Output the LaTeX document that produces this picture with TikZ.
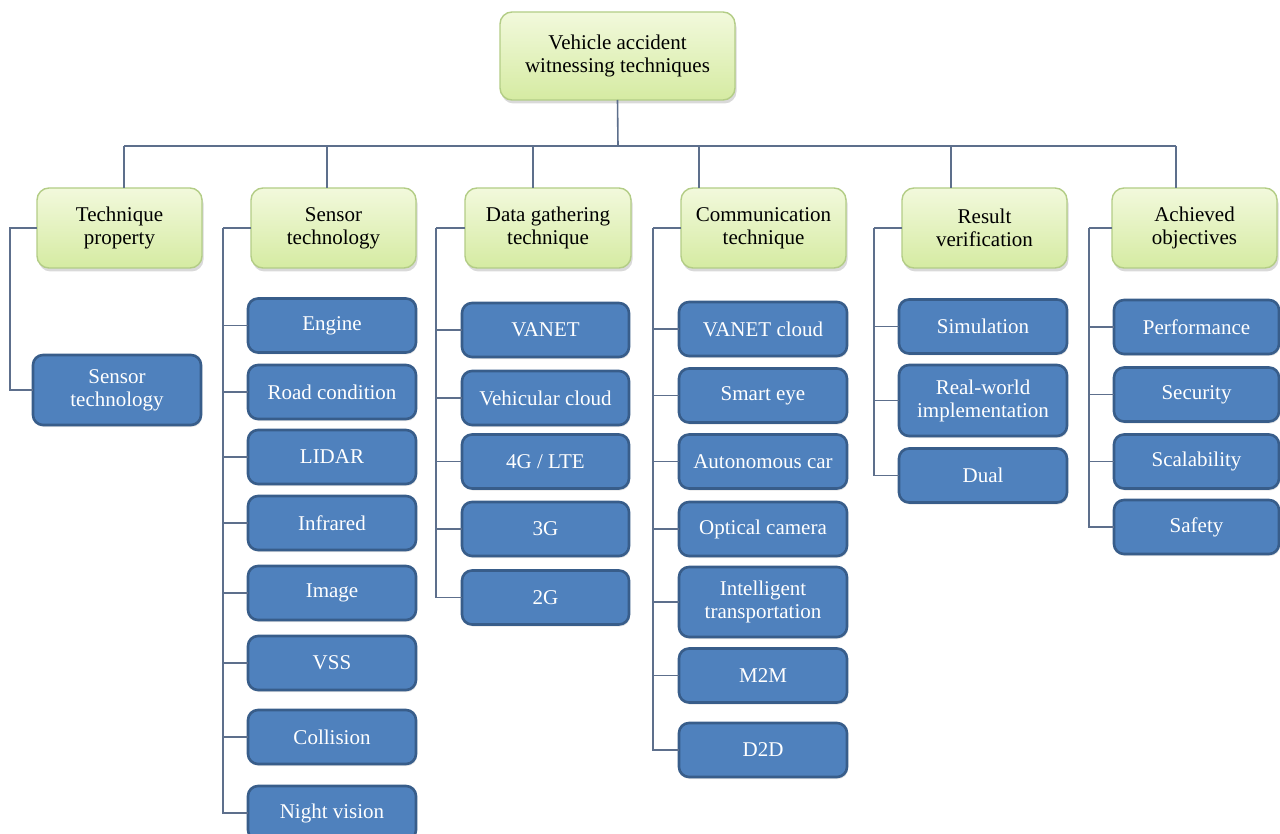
\documentclass[tikz,border=0pt]{standalone}
\usepackage{fontspec}
\setmainfont{Liberation Serif}
\usetikzlibrary{shadows}
\definecolor{bluefill}{HTML}{4F81BD}
\definecolor{blueedge}{HTML}{385D8A}
\definecolor{greentop}{HTML}{F2F9DC}
\definecolor{greenbot}{HTML}{D5EBA2}
\definecolor{greenedge}{HTML}{B3CD86}
\definecolor{linkcol}{HTML}{5D6F8C}
\tikzset{
  greenbox/.style={rectangle, rounded corners=12pt, draw=greenedge, line width=1.4pt,
    top color=greentop, bottom color=greenbot, text=black, align=center,
    inner sep=0pt, outer sep=0pt, font=\fontsize{21}{23}\selectfont,
    drop shadow={shadow xshift=1.5pt, shadow yshift=-3.5pt, opacity=0.3}},
  bluebox/.style={rectangle, rounded corners=10pt, draw=blueedge, line width=2.6pt,
    fill=bluefill, text=white, align=center, minimum width=168pt, minimum height=54pt,
    inner sep=0pt, outer sep=0pt, font=\fontsize{21}{23}\selectfont,
    drop shadow={shadow xshift=1pt, shadow yshift=-2pt, opacity=0.2}},
  link/.style={draw=linkcol, line width=1.6pt}
}
\begin{document}
\begin{tikzpicture}[x=1pt,y=-1pt]
\useasboundingbox (0,0) rectangle (1280,834);
% top
\node[greenbox, minimum width=235pt, minimum height=88pt] (top) at (617.5,56) {Vehicle accident\\witnessing techniques};
% level 2
\node[greenbox, minimum width=165pt, minimum height=80pt] (tp) at (119.5,228) {Technique\\property};
\node[greenbox, minimum width=165pt, minimum height=80pt] (st) at (333.5,228) {Sensor\\technology};
\node[greenbox, minimum width=166pt, minimum height=80pt] (dg) at (548,228) {Data gathering\\technique};
\node[greenbox, minimum width=165pt, minimum height=80pt] (ct) at (763.5,228) {Communication\\technique};
\node[greenbox, minimum width=165pt, minimum height=80pt] (rv) at (984.5,228) {Result\\verification};
\node[greenbox, minimum width=165pt, minimum height=80pt] (ao) at (1194.5,228) {Achieved\\objectives};
% bus
\coordinate (bus) at (618,146);
\draw[link] (top.south) -- (bus);
\draw[link] (124,146) -- (1176,146);
\draw[link] (124,146) -- (124,188);
\draw[link] (327,146) -- (327,188);
\draw[link] (533,146) -- (533,188);
\draw[link] (699,146) -- (699,188);
\draw[link] (951,146) -- (951,188);
\draw[link] (1176,146) -- (1176,188);
% technique property children
\node[bluebox, minimum height=70pt] (tp1) at (117,390) {Sensor\\technology};
% sensor technology children
\node[bluebox] (st1) at (332,325.5) {Engine};
\node[bluebox] (st2) at (332,392) {Road condition};
\node[bluebox] (st3) at (332,457) {LIDAR};
\node[bluebox] (st4) at (332,523) {Infrared};
\node[bluebox] (st5) at (332,593) {Image};
\node[bluebox] (st6) at (332,663) {VSS};
\node[bluebox] (st7) at (332,737) {Collision};
\node[bluebox] (st8) at (332,813) {Night vision};
% data gathering children
\node[bluebox, minimum width=167pt] (dg1) at (545.5,330) {VANET};
\node[bluebox, minimum width=167pt] (dg2) at (545.5,398) {Vehicular cloud};
\node[bluebox, minimum width=167pt] (dg3) at (545.5,461.5) {4G / LTE};
\node[bluebox, minimum width=167pt] (dg4) at (545.5,529) {3G};
\node[bluebox, minimum width=167pt] (dg5) at (545.5,597.5) {2G};
% communication children
\node[bluebox] (ct1) at (763,329) {VANET cloud};
\node[bluebox] (ct2) at (763,395.5) {Smart eye};
\node[bluebox] (ct3) at (763,461.5) {Autonomous car};
\node[bluebox] (ct4) at (763,529) {Optical camera};
\node[bluebox, minimum height=70pt] (ct5) at (763,602) {Intelligent\\transportation};
\node[bluebox] (ct6) at (763,675.5) {M2M};
\node[bluebox] (ct7) at (763,750) {D2D};
% result verification children
\node[bluebox] (rv1) at (983,326.5) {Simulation};
\node[bluebox, minimum height=71pt] (rv2) at (983,400.5) {Real-world\\implementation};
\node[bluebox] (rv3) at (983,475.5) {Dual};
% achieved objectives children
\node[bluebox, minimum width=165pt] (ao1) at (1196.5,327) {Performance};
\node[bluebox, minimum width=165pt] (ao2) at (1196.5,394.5) {Security};
\node[bluebox, minimum width=165pt] (ao3) at (1196.5,461.5) {Scalability};
\node[bluebox, minimum width=165pt] (ao4) at (1196.5,527) {Safety};
% connectors
\draw[link] (tp.west) -- ++(-27,0) coordinate (tpc) |- (tp1.west);
\draw[link] (st.west) -- ++(-28,0) coordinate (stc);
\foreach \c in {st1,st2,st3,st4,st5,st6,st7,st8} \draw[link] (stc) |- (\c.west);
\draw[link] (dg.west) -- ++(-29,0) coordinate (dgc);
\foreach \c in {dg1,dg2,dg3,dg4,dg5} \draw[link] (dgc) |- (\c.west);
\draw[link] (ct.west) -- ++(-28,0) coordinate (ctc);
\foreach \c in {ct1,ct2,ct3,ct4,ct5,ct6,ct7} \draw[link] (ctc) |- (\c.west);
\draw[link] (rv.west) -- ++(-28,0) coordinate (rvc);
\foreach \c in {rv1,rv2,rv3} \draw[link] (rvc) |- (\c.west);
\draw[link] (ao.west) -- ++(-23,0) coordinate (aoc);
\foreach \c in {ao1,ao2,ao3,ao4} \draw[link] (aoc) |- (\c.west);
\end{tikzpicture}
\end{document}
